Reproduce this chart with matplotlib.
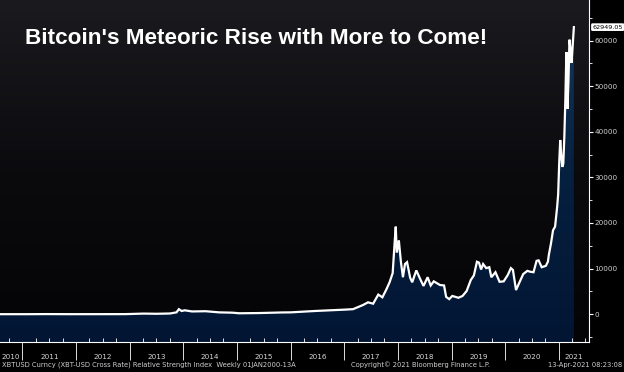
import numpy as np
import pandas as pd
import matplotlib
matplotlib.use("Agg")
import matplotlib.pyplot as plt
import matplotlib.dates as mdates
from matplotlib.colors import LinearSegmentedColormap

# weekly close XBTUSD
dates = ["2010-08-01", "2011-02-01", "2011-06-10", "2011-12-01", "2012-06-01", "2012-12-01",
         "2013-04-07", "2013-07-01", "2013-10-01", "2013-11-15", "2013-12-01", "2013-12-20",
         "2014-01-10", "2014-03-01", "2014-06-01", "2014-09-01", "2014-12-01", "2015-01-15",
         "2015-06-01", "2015-11-05", "2016-01-01", "2016-06-15", "2016-12-01", "2017-01-05",
         "2017-03-01", "2017-05-07", "2017-06-11", "2017-07-16", "2017-08-20", "2017-09-17",
         "2017-10-15", "2017-11-05", "2017-11-26", "2017-12-10", "2017-12-17", "2017-12-24",
         "2018-01-07", "2018-01-21", "2018-02-04", "2018-02-18", "2018-03-04", "2018-03-25",
         "2018-04-08", "2018-05-06", "2018-06-03", "2018-06-24", "2018-07-22", "2018-08-12",
         "2018-09-02", "2018-10-14", "2018-11-11", "2018-11-25", "2018-12-16", "2019-01-06",
         "2019-02-17", "2019-03-17", "2019-04-14", "2019-05-12", "2019-06-02", "2019-06-23",
         "2019-07-07", "2019-07-21", "2019-08-04", "2019-08-25", "2019-09-15", "2019-09-29",
         "2019-10-27", "2019-11-24", "2019-12-22", "2020-01-19", "2020-02-09", "2020-02-23",
         "2020-03-15", "2020-04-05", "2020-05-03", "2020-05-31", "2020-06-21", "2020-07-12",
         "2020-08-02", "2020-08-16", "2020-09-06", "2020-10-04", "2020-10-18", "2020-10-25",
         "2020-11-08", "2020-11-22", "2020-12-06", "2020-12-20", "2020-12-27", "2021-01-03",
         "2021-01-10", "2021-01-17", "2021-01-24", "2021-01-31", "2021-02-07", "2021-02-14",
         "2021-02-21", "2021-02-28", "2021-03-07", "2021-03-14", "2021-03-21", "2021-03-28",
         "2021-04-04", "2021-04-13"]
prices = [0.06, 1, 20, 3, 6, 13,
          130, 90, 150, 400, 1100, 700,
          850, 600, 650, 400, 330, 200,
          250, 380, 400, 700, 950, 1000,
          1100, 2000, 2600, 2300, 4300, 3700,
          5500, 7000, 9000, 16000, 19200, 13500,
          16200, 11500, 8100, 11000, 11400, 8000,
          7000, 9600, 7600, 6200, 8100, 6300,
          7200, 6400, 6300, 3800, 3300, 4000,
          3600, 4000, 5100, 7500, 8500, 11500,
          11300, 9800, 11000, 10100, 10300, 8100,
          9200, 7100, 7200, 8600, 10100, 9700,
          5300, 6800, 8800, 9500, 9300, 9200,
          11700, 11800, 10300, 10600, 11500, 13100,
          15500, 18400, 19200, 23500, 26300, 33000,
          38200, 35000, 32300, 33000, 38900, 47000,
          57500, 45000, 51000, 60200, 58000, 55100,
          58500, 62949.05]
years = list(range(2010, 2022))
last_label = "62949.05"

x = mdates.date2num(pd.to_datetime(dates))
y = np.array(prices)

xmin = mdates.date2num(pd.Timestamp("2010-08-01"))
xmax = mdates.date2num(pd.Timestamp("2021-07-25"))
ymin, ymax = -6100, 68900

fig = plt.figure(figsize=(6.24, 3.72), dpi=100)
fig.patch.set_facecolor("black")
ax = fig.add_axes([0, 30 / 372, 589 / 624, 342 / 372])
ax.set_facecolor("black")

# background gradient (dark grey at top to black at bottom)
bg = LinearSegmentedColormap.from_list("bg", ["#040407", "#0b0b0e", "#1b1b1f"])
ax.imshow(np.linspace(0, 1, 256).reshape(-1, 1), cmap=bg, origin="lower", aspect="auto",
          extent=[xmin, xmax, ymin, ymax], zorder=0)

# gradient area fill under the line
poly = ax.fill_between(x, y, ymin, color="none", lw=0)
fl = LinearSegmentedColormap.from_list("fl", ["#021634", "#06203f", "#163a62"])
im = ax.imshow(np.linspace(0, 1, 256).reshape(-1, 1), cmap=fl, origin="lower", aspect="auto",
               extent=[xmin, xmax, ymin, ymax], zorder=1)
im.set_clip_path(poly.get_paths()[0], transform=ax.transData)

ax.plot(x, y, color="white", lw=1.6, zorder=3, solid_joinstyle="miter")

ax.set_xlim(xmin, xmax)
ax.set_ylim(ymin, ymax)

for s in ["top", "left"]:
    ax.spines[s].set_visible(False)
ax.spines["bottom"].set_color("white")
ax.spines["right"].set_color("white")
ax.spines["bottom"].set_linewidth(0.8)
ax.spines["right"].set_linewidth(0.8)

# y axis on the right
ax.yaxis.tick_right()
ax.set_yticks(range(0, 60001, 10000))
ax.set_yticks(range(-5000, 68001, 5000), minor=True)
ax.tick_params(axis="y", which="major", direction="out", length=3, color="white",
               labelsize=5.2, labelcolor="#d0d0d0", pad=1)
ax.tick_params(axis="y", which="minor", direction="out", length=2, color="white")

# x axis: year separators, quarter ticks, year labels centred in each year
ax.xaxis.set_major_locator(mdates.YearLocator())
ax.xaxis.set_minor_locator(mdates.MonthLocator(bymonth=[4, 7, 10]))
ax.xaxis.set_major_formatter(plt.NullFormatter())
ax.tick_params(axis="x", which="major", direction="out", length=13, color="white", width=0.6)
ax.tick_params(axis="x", which="minor", direction="in", length=3, color="white", width=0.6)

for yr in years:
    a = max(mdates.date2num(pd.Timestamp(f"{yr}-01-01")), xmin)
    b = min(mdates.date2num(pd.Timestamp(f"{yr + 1}-01-01")), xmax)
    ax.text((a + b) / 2, -0.045, str(yr), transform=ax.get_xaxis_transform(),
            ha="center", va="center", color="#d8d8d8", fontsize=5.2, clip_on=False)

# last value tag
ax.annotate(last_label, xy=(1, y[-1]), xycoords=("axes fraction", "data"),
            xytext=(2.5, 0), textcoords="offset points", ha="left", va="center",
            fontsize=4.6, color="black",
            bbox=dict(boxstyle="round,pad=0.1", fc="white", ec="white"))

fig.text(25 / 624, 1 - 38 / 372, "Bitcoin's Meteoric Rise with More to Come!",
         family="Liberation Sans", weight="bold", fontsize=16.2, color="white",
         ha="left", va="center")

fig.text(2 / 624, 1 - 365 / 372,
         "XBTUSD Curncy (XBT-USD Cross Rate) Relative Strength Index  Weekly 01JAN2000-13A",
         fontsize=4.9, color="#cfcfcf", ha="left", va="center")
fig.text(420 / 624, 1 - 365 / 372, "Copyright\u00a9 2021 Bloomberg Finance L.P.",
         fontsize=4.9, color="#cfcfcf", ha="center", va="center")
fig.text(622 / 624, 1 - 365 / 372, "13-Apr-2021 08:23:08",
         fontsize=4.9, color="#cfcfcf", ha="right", va="center")

fig.savefig("out.png", dpi=100, facecolor=fig.get_facecolor())
